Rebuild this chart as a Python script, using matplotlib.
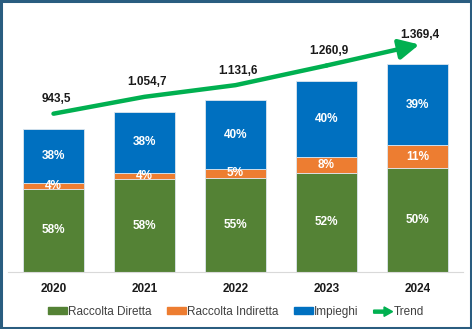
import numpy as np
import matplotlib.pyplot as plt
from matplotlib.patches import Patch, FancyArrow
from matplotlib.legend_handler import HandlerPatch

plt.rcParams['font.family'] = ['Liberation Sans', 'DejaVu Sans']

# dati (milioni di euro) e composizione percentuale
anni = ["2020", "2021", "2022", "2023", "2024"]
totali = [943.5, 1054.7, 1131.6, 1260.9, 1369.4]
etichette_totali = ["943,5", "1.054,7", "1.131,6", "1.260,9", "1.369,4"]
pct_diretta = [58, 58, 55, 52, 50]
pct_indiretta = [4, 4, 5, 8, 11]
pct_impieghi = [38, 38, 40, 40, 39]

col_diretta = "#548235"
col_indiretta = "#ED7D31"
col_impieghi = "#0070C0"
col_trend = "#00B050"


class HandlerArrow(HandlerPatch):
    def create_artists(self, legend, orig_handle, xdescent, ydescent,
                       width, height, fontsize, trans):
        a = FancyArrow(0, height / 2, width, 0, width=height * 0.45,
                       head_width=height * 1.4, head_length=width * 0.45,
                       length_includes_head=True, color=col_trend)
        a.set_transform(trans)
        return [a]


fig = plt.figure(figsize=(4.72, 3.29), dpi=100)
ax = fig.add_axes([8 / 472, 57 / 329, 455 / 472, 257 / 329])

x = np.arange(len(anni))
tot = np.array(totali)
v_dir = tot * np.array(pct_diretta) / 100
v_ind = tot * np.array(pct_indiretta) / 100
v_imp = tot * np.array(pct_impieghi) / 100

w = 0.67
kw = dict(width=w, edgecolor="#dde6ee", linewidth=0.6)
ax.bar(x, v_dir, color=col_diretta, **kw)
ax.bar(x, v_ind, bottom=v_dir, color=col_indiretta, **kw)
ax.bar(x, v_imp, bottom=v_dir + v_ind, color=col_impieghi, **kw)

# percentuali dentro le barre
for i in range(len(anni)):
    segs = [(v_dir[i], 0, pct_diretta[i]),
            (v_ind[i], v_dir[i], pct_indiretta[i]),
            (v_imp[i], v_dir[i] + v_ind[i], pct_impieghi[i])]
    for h, b, p in segs:
        ax.text(x[i], b + h / 2, f"{p}%", ha="center", va="center",
                color="white", fontsize=8.5, fontweight="bold")
    ax.text(x[i] + 0.03, tot[i] + 195, etichette_totali[i], ha="center",
            va="center", fontsize=8.5, fontweight="bold", color="#1a1a1a")

# linea di tendenza con freccia
trend = tot + 100
ax.plot(x[:-1], trend[:-1], color=col_trend, lw=3.2, solid_capstyle="round",
        solid_joinstyle="round")
ax.annotate("", xy=(x[-1] + 0.02, trend[-1] + 30), xytext=(x[-2], trend[-2]),
            arrowprops=dict(arrowstyle="-|>,head_length=1.2,head_width=0.6",
                            color=col_trend, lw=3.2, shrinkA=0, shrinkB=0))

ax.set_xlim(-0.5, 4.5)
ax.set_ylim(0, 1694)
ax.set_yticks([])
ax.set_xticks(x)
ax.set_xticklabels(anni, fontsize=8.5, fontweight="bold", color="#1a1a1a")
ax.tick_params(axis="x", length=0, pad=8)
for s in ["top", "left", "right"]:
    ax.spines[s].set_visible(False)
ax.spines["bottom"].set_color("#d9d9d9")

handles = [Patch(color=col_diretta), Patch(color=col_indiretta),
           Patch(color=col_impieghi), Patch(color=col_trend)]
labels = ["Raccolta Diretta", "Raccolta Indiretta", "Impieghi", "Trend"]
fig.legend(handles, labels, loc="center", bbox_to_anchor=(0.5, 17 / 329),
           ncol=4, frameon=False, fontsize=8.5, handlelength=1.6,
           handleheight=0.5, handletextpad=0.1, columnspacing=1.3,
           labelcolor="#404040",
           handler_map={handles[3]: HandlerArrow()})

# cornice esterna
fig.patches.append(plt.Rectangle((0.003, 0.004), 0.994, 0.992,
                                 transform=fig.transFigure, fill=False,
                                 edgecolor="#2a5d80", linewidth=2.2))

fig.savefig("out.png", dpi=100)
